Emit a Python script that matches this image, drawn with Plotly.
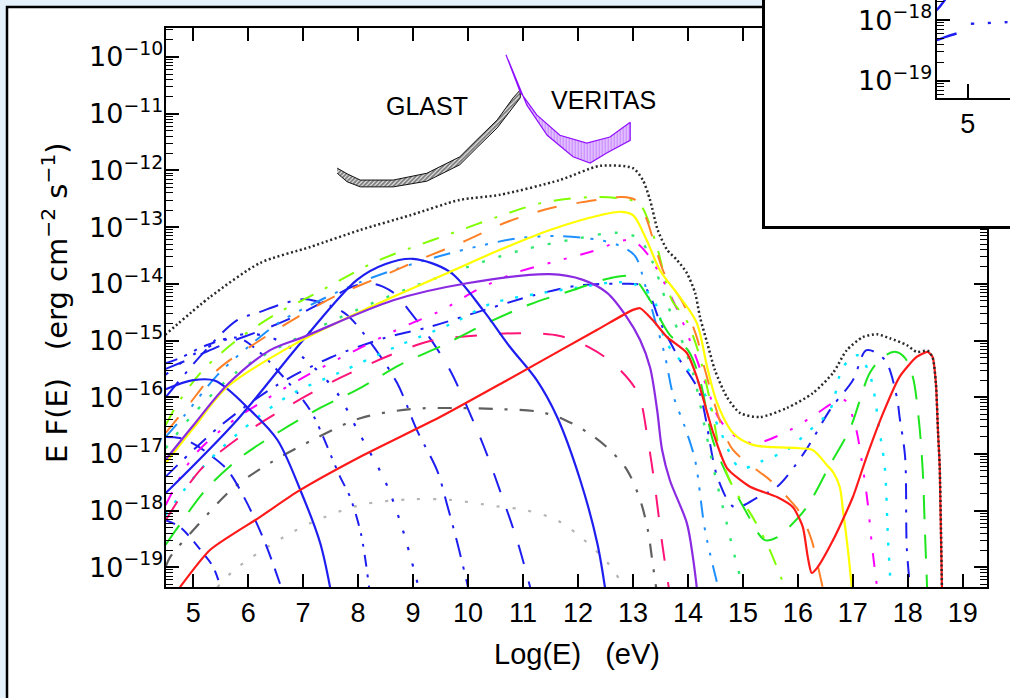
import plotly.graph_objects as go

FIG_W, FIG_H = 1010, 698

# ---------------------------------------------------------------------------
# Spectra: log10(E / eV) and log10(E F(E) / erg cm^-2 s^-1)
# ---------------------------------------------------------------------------
total_logE = [4.49, 5.31, 6.22, 7.13, 8.04, 8.95, 9.85, 10.58, 11.67, 12.40, 13.0, 13.18, 13.31,
              13.45, 13.62, 13.8, 13.98, 14.13, 14.22, 14.35, 14.49, 14.71, 14.95, 15.31, 15.8,
              16.27, 16.64, 16.89, 17.18, 17.44, 17.67, 17.98, 18.16, 18.36, 18.45, 18.51, 18.55,
              18.58, 18.62]
total_logF = [-14.90, -14.23, -13.63, -13.35, -13.05, -12.79, -12.52, -12.43, -12.17, -11.92,
              -11.96, -12.17, -12.52, -13.05, -13.40, -13.58, -13.81, -14.16, -14.59, -15.04,
              -15.52, -16.0, -16.28, -16.35, -16.19, -15.93, -15.57, -15.17, -14.94, -14.89,
              -14.96, -15.08, -15.20, -15.18, -15.30, -15.75, -16.63, -17.23, -19.35]

red_logE = [4.76, 5.31, 6.22, 6.89, 8.04, 9.49, 10.71, 12.35, 13.0, 13.13, 13.36, 13.62, 13.98,
            14.16, 14.3, 14.45, 14.71, 15.13, 15.62, 15.91, 16.09, 16.18, 16.25, 16.35, 16.64,
            17.0, 17.25, 17.55, 17.85, 18.16, 18.36, 18.45, 18.51, 18.55, 18.58, 18.62]
red_logF = [-19.35, -18.69, -18.11, -17.67, -17.05, -16.35, -15.70, -14.81, -14.46, -14.43,
            -14.64, -14.94, -15.22, -15.64, -16.10, -16.60, -17.25, -17.58, -17.76, -17.94,
            -18.29, -18.82, -19.10, -19.01, -18.52, -17.76, -17.05, -16.28, -15.64, -15.29,
            -15.20, -15.29, -15.75, -16.63, -17.23, -19.35]

yellow_logE = [4.5, 5.0, 5.62, 6.89, 8.22, 8.64, 9.67, 10.58, 11.49, 12.40, 12.80, 13.0, 13.25,
               13.49, 13.85, 14.16, 14.35, 14.53, 14.82, 15.18, 16.04, 16.27, 16.53, 16.64,
               16.76, 16.82, 16.91, 16.98]
yellow_logF = [-17.16, -16.55, -15.82, -15.04, -14.41, -14.23, -13.79, -13.40, -13.05, -12.79,
               -12.73, -12.79, -13.23, -13.76, -14.23, -14.69, -15.47, -16.10, -16.63, -16.84,
               -16.90, -16.93, -17.20, -17.32, -17.58, -17.99, -18.69, -19.35]

purple_logE = [4.5, 5.0, 5.62, 6.4, 7.0, 8.64, 9.98, 11.49, 12.09, 12.53, 12.89, 13.13, 13.31,
               13.44, 13.53, 13.67, 13.98, 14.09, 14.16]
purple_logF = [-17.10, -16.50, -15.78, -15.17, -14.94, -14.29, -13.99, -13.83, -13.93, -14.16,
               -14.59, -14.99, -15.47, -16.23, -16.93, -17.46, -18.22, -18.82, -19.35]

orange_logE = [4.5, 4.89, 5.44, 6.16, 6.89, 7.62, 8.40, 9.18, 9.91, 10.71, 11.53, 12.36, 12.80,
               13.04, 13.22, 13.44, 13.58, 13.91, 14.16, 14.31, 14.64, 14.82, 15.18, 15.49,
               15.85, 16.04, 16.25, 16.35, 16.45]
orange_logF = [-16.63, -16.17, -15.52, -15.03, -14.59, -14.20, -13.88, -13.55, -13.26, -12.91,
               -12.66, -12.52, -12.47, -12.52, -12.79, -13.46, -13.84, -14.34, -14.94, -15.52,
               -16.58, -16.93, -17.23, -17.46, -17.81, -18.04, -18.52, -18.92, -19.35]

lime_logE = [4.5, 4.76, 5.18, 5.8, 6.53, 7.25, 8.27, 8.95, 9.73, 10.53, 11.36, 12.27, 12.95,
             13.13, 13.4, 13.71, 13.95, 14.18, 14.4, 14.62, 14.85, 15.13, 15.45, 15.76]
lime_logF = [-16.49, -16.05, -15.52, -14.99, -14.52, -14.16, -13.63, -13.37, -13.10, -12.82,
             -12.57, -12.47, -12.52, -12.60, -13.23, -14.29, -14.60, -15.17, -16.05, -17.11,
             -17.64, -18.04, -18.61, -19.35]

spring_logE = [4.5, 5.0, 5.8, 6.8, 8.0, 9.0, 10.0, 11.0, 12.0, 12.7, 13.1, 13.35, 13.6, 13.85,
               14.1, 14.3, 14.5, 14.7, 14.85, 15.0]
spring_logF = [-16.90, -16.30, -15.55, -15.00, -14.45, -14.05, -13.70, -13.40, -13.20, -13.10,
               -13.20, -13.60, -14.30, -14.90, -15.60, -16.50, -17.40, -18.20, -18.80, -19.35]

green_logE = [4.5, 4.71, 5.22, 5.85, 6.58, 7.31, 8.07, 8.76, 9.55, 10.35, 11.13, 11.91, 12.58,
              12.98, 13.31, 13.67, 14.0, 14.22, 14.45, 14.71, 15.04, 15.4, 15.62, 15.82, 16.16,
              16.58, 16.95, 17.31, 17.55, 17.76, 17.95, 18.09, 18.2, 18.27, 18.31, 18.35]
green_logF = [-18.60, -18.31, -17.64, -17.07, -16.60, -16.19, -15.82, -15.43, -15.08, -14.69,
              -14.36, -14.11, -13.90, -13.88, -14.29, -14.90, -15.17, -15.70, -16.75, -17.37,
              -17.99, -18.52, -18.47, -18.31, -17.94, -17.20, -16.55, -15.57, -15.29, -15.20,
              -15.31, -15.64, -16.40, -17.28, -18.34, -19.35]

dodger_logE = [4.5, 4.85, 5.44, 6.04, 6.58, 7.31, 8.04, 8.76, 9.49, 10.22, 10.95, 11.67, 12.4,
               12.76, 13.04, 13.22, 13.4, 13.58, 13.73, 13.95, 14.13, 14.31, 14.55]
dodger_logF = [-16.70, -16.31, -15.61, -15.08, -14.67, -14.29, -13.97, -13.72, -13.51, -13.33,
               -13.19, -13.16, -13.23, -13.33, -13.51, -14.02, -14.64, -15.26, -15.96, -16.54,
               -17.11, -18.34, -19.35]

magenta_logE = [4.5, 5.0, 5.62, 6.22, 6.95, 7.67, 8.82, 9.49, 10.16, 10.85, 11.53, 12.22, 12.95,
                13.25, 13.85, 14.36, 14.58, 14.95, 15.25, 15.85, 16.31, 16.64, 16.85, 17.04,
                17.16, 17.27, 17.35, 17.44]
magenta_logF = [-17.90, -17.05, -16.49, -16.10, -15.68, -15.31, -14.76, -14.48, -14.11, -13.81,
                -13.62, -13.44, -13.23, -13.46, -14.55, -15.87, -16.40, -16.75, -16.81, -16.58,
                -16.31, -16.10, -16.05, -16.49, -17.11, -17.87, -18.64, -19.35]

pink_logE = [4.5, 5.13, 5.85, 6.76, 7.67, 8.58, 9.31, 10.04, 10.95, 11.67, 12.22, 12.67, 13.09,
             13.27, 13.4, 13.53, 13.65]
pink_logF = [-18.17, -17.28, -16.70, -16.14, -15.66, -15.26, -15.01, -14.92, -14.87, -14.92,
             -15.13, -15.43, -15.93, -16.75, -17.58, -18.57, -19.35]

cyan_logE = [4.5, 5.13, 5.85, 6.76, 7.67, 8.76, 9.73, 10.45, 11.36, 12.04, 12.76, 13.18, 13.44,
             13.58, 13.85, 14.22, 14.58, 14.95, 15.31, 15.8, 16.16, 16.58, 16.82, 17.09, 17.31,
             17.49, 17.58, 17.64, 17.69]
cyan_logF = [-18.08, -17.28, -16.61, -15.96, -15.56, -15.08, -14.69, -14.34, -14.16, -14.06,
             -13.97, -14.07, -14.41, -14.99, -15.34, -15.78, -16.58, -17.25, -17.14, -16.93,
             -16.63, -16.23, -15.47, -15.26, -15.61, -16.63, -17.23, -18.52, -19.35]

grey_logE = [4.5, 4.58, 5.09, 5.73, 6.45, 7.24, 8.04, 8.95, 9.76, 10.58, 11.31, 11.76, 12.22,
             12.58, 12.89, 13.13, 13.27, 13.35, 13.42]
grey_logF = [-18.99, -18.82, -18.25, -17.60, -17.13, -16.72, -16.37, -16.21, -16.19, -16.21,
             -16.26, -16.40, -16.65, -16.93, -17.28, -17.81, -18.34, -18.87, -19.35]

silver_logE = [5.44, 5.71, 6.04, 6.64, 7.18, 8.04, 8.95, 9.67, 10.49, 11.04, 11.62, 12.09, 12.53,
               12.76, 12.85]
silver_logF = [-19.35, -19.08, -18.84, -18.47, -18.20, -17.90, -17.80, -17.81, -17.92, -17.99,
               -18.17, -18.50, -18.91, -19.22, -19.35]

blue_a_logE = [4.5, 5.0, 5.4, 6.04, 6.53, 6.95, 7.31, 7.49]
blue_a_logF = [-15.86, -15.70, -15.71, -16.23, -16.75, -17.64, -18.57, -19.35]

blue_b_logE = [4.5, 5.8, 7.0, 7.98, 8.5, 9.0, 9.67, 10.27, 10.76, 11.25, 11.62, 12.04, 12.35, 12.49]
blue_b_logF = [-17.69, -16.40, -14.99, -13.93, -13.65, -13.56, -13.79, -14.46, -15.11, -15.70,
               -16.35, -17.46, -18.57, -19.35]

blue_0_logE = [4.5, 4.76, 5.13, 5.36, 5.5]
blue_0_logF = [-18.17, -18.29, -18.69, -18.99, -19.35]

blue_1_logE = [4.5, 4.76, 5.04, 5.31, 5.62, 5.95, 6.31, 6.6]
blue_1_logF = [-16.70, -16.72, -16.84, -17.02, -17.28, -17.81, -18.57, -19.35]

blue_2_logE = [4.5, 4.78, 5.2, 5.8, 6.2, 6.6, 7.0, 7.2, 7.67, 7.85, 8.05, 8.2]
blue_2_logF = [-15.40, -15.30, -15.10, -14.95, -15.20, -15.60, -16.05, -16.35, -17.40, -17.75,
               -18.40, -19.35]

blue_3_logE = [4.5, 5.2, 5.8, 6.2, 6.7, 7.05, 7.55, 7.8, 8.2, 8.71, 9.07, 9.44, 9.62, 9.8, 10.0]
blue_3_logF = [-16.00, -15.20, -14.64, -14.50, -14.33, -14.27, -14.41, -14.55, -15.00, -15.75,
               -16.58, -17.30, -17.90, -18.55, -19.35]

blue_4_logE = [4.5, 5.0, 5.6, 6.3, 6.9, 7.5, 7.9, 8.2, 8.45, 8.7, 8.95, 9.3, 9.67, 9.95, 10.3,
               10.6, 10.9, 11.13]
blue_4_logF = [-15.50, -15.30, -15.05, -14.80, -14.55, -14.25, -14.05, -13.99, -14.05, -14.20,
               -14.50, -14.95, -15.52, -16.10, -16.90, -17.70, -18.55, -19.35]

blue_5_logE = [4.5, 5.5, 6.5, 7.5, 8.5, 9.3, 10.3, 11.2, 12.0, 12.75, 13.2, 13.5, 13.85, 14.2,
               14.55, 14.85, 15.3, 15.62, 16.1, 16.6, 17.0, 17.25, 17.58, 17.8, 17.85, 17.95,
               17.98, 18.04]
blue_5_logF = [-17.40, -16.50, -15.80, -15.30, -14.95, -14.76, -14.46, -14.20, -14.03, -14.00,
               -14.05, -14.69, -15.34, -15.90, -17.45, -17.94, -17.75, -17.58, -17.00, -16.20,
               -15.70, -15.17, -15.34, -16.00, -16.35, -17.05, -18.64, -19.35]

blue_dot_logE = [4.5, 5.0, 5.6, 6.0, 6.5, 7.0, 7.6, 8.0, 8.5, 8.8, 9.1]
blue_dot_logF = [-15.60, -15.25, -14.98, -14.88, -14.98, -15.30, -15.90, -16.60, -17.50, -18.30,
                 -19.35]

# Sensitivity bands (upper and lower edges)
glast_logE = [7.62, 7.80, 8.04, 8.64, 9.25, 9.85, 10.16, 10.53, 10.82, 10.95]
glast_hi = [-11.96, -12.06, -12.17, -12.17, -12.05, -11.76, -11.46, -11.11, -10.72, -10.58]
glast_lo = [-12.05, -12.20, -12.29, -12.29, -12.19, -11.90, -11.60, -11.25, -10.88, -10.72]

veritas_hi_logE = [10.69, 10.95, 11.25, 11.67, 12.16, 12.58, 12.95]
veritas_hi = [-9.96, -10.62, -11.02, -11.38, -11.52, -11.41, -11.15]
veritas_lo_logE = [10.73, 11.07, 11.44, 11.91, 12.22, 12.53, 12.95]
veritas_lo = [-10.05, -10.85, -11.38, -11.76, -11.87, -11.69, -11.47]

# Inset curves (low-energy detail)
inset_a_logE = [4.5, 4.58, 4.68]
inset_a_logF = [-17.84, -17.74, -17.60]
inset_b_logE = [4.5, 4.66, 4.82]
inset_b_logF = [-18.33, -18.27, -18.22]
inset_c_logE = [5.05, 5.3, 5.5, 5.7]
inset_c_logF = [-18.06, -18.05, -18.04, -18.03]

# Axis ticks
x_ticks = list(range(5, 20))
y_decades = list(range(-19, -9))
y_ticktext = ["10<sup>\u2212%d</sup>" % (-d) for d in y_decades]
inset_decades = [-19, -18]
inset_ticktext = ["10<sup>\u2212%d</sup>" % (-d) for d in inset_decades]

BLUE = "#1e1ef0"
SANS = "Liberation Sans, Arial, sans-serif"
WIDE = "DejaVu Sans, sans-serif"


def lin(vals):
    return [10.0 ** v for v in vals]


fig = go.Figure()


def curve(xs, ys, color, dash="solid", width=2.0, smoothing=0.9, xaxis="x", yaxis="y"):
    fig.add_trace(go.Scatter(
        x=xs, y=lin(ys), mode="lines", xaxis=xaxis, yaxis=yaxis,
        line=dict(color=color, width=width, dash=dash, shape="spline", smoothing=smoothing),
        hoverinfo="skip", showlegend=False))


# generation components
curve(silver_logE, silver_logF, "#b4b4b4", "3px,13px", 2.2)
curve(grey_logE, grey_logF, "#606060", "14px,12px,3px,12px", 2.2)
curve(blue_dot_logE, blue_dot_logF, BLUE, "3px,14px", 2.2)
curve(blue_0_logE, blue_0_logF, BLUE, "10px,8px")
curve(blue_1_logE, blue_1_logF, BLUE, "16px,10px")
curve(blue_2_logE, blue_2_logF, BLUE, "12px,8px,3px,8px,3px,8px")
curve(blue_3_logE, blue_3_logF, BLUE, "20px,10px,3px,10px")
curve(blue_4_logE, blue_4_logF, BLUE, "20px,18px")
curve(blue_5_logE, blue_5_logF, BLUE, "16px,10px,3px,10px")
curve(cyan_logE, cyan_logF, "#00e8ff", "3px,12px", 2.4)
curve(pink_logE, pink_logF, "#ff1477", "22px,22px")
curve(magenta_logE, magenta_logF, "#ff00ff", "14px,14px,3px,14px,3px,14px")
curve(dodger_logE, dodger_logF, "#1e90ff", "17px,10px,3px,10px,3px,10px,3px,10px")
curve(green_logE, green_logF, "#1ee61e", "24px,16px")
curve(spring_logE, spring_logF, "#30e870", "3px,14px", 2.4)
curve(lime_logE, lime_logF, "#7fff00", "17px,13px,3px,13px")
curve(orange_logE, orange_logF, "#ff8026", "20px,20px")
curve(blue_a_logE, blue_a_logF, BLUE, "solid", 2.2)
curve(blue_b_logE, blue_b_logF, BLUE, "solid", 2.2)
curve(yellow_logE, yellow_logF, "#ffff00", "solid", 2.2)
curve(purple_logE, purple_logF, "#8a2be2", "solid", 2.2)
curve(red_logE, red_logF, "#ff1a1a", "solid", 2.2, smoothing=0.6)
curve(total_logE, total_logF, "#2a2a2a", "2px,2.6px", 2.5, smoothing=0.7)

# instrument sensitivity bands
fig.add_trace(go.Scatter(
    x=glast_logE + glast_logE[::-1], y=lin(glast_hi + glast_lo[::-1]),
    mode="lines", fill="toself", line=dict(color="#111111", width=1),
    fillcolor="rgba(0,0,0,0)",
    fillpattern=dict(shape="/", fgcolor="black", bgcolor="white", size=3, solidity=0.7),
    hoverinfo="skip", showlegend=False))
fig.add_trace(go.Scatter(
    x=veritas_hi_logE + veritas_lo_logE[::-1], y=lin(veritas_hi + veritas_lo[::-1]),
    mode="lines", fill="toself", line=dict(color="#9010ff", width=1.2),
    fillcolor="rgba(0,0,0,0)",
    fillpattern=dict(shape="|", fgcolor="#9010ff", bgcolor="white", size=3, solidity=0.7),
    hoverinfo="skip", showlegend=False))

# white panel that carries the inset (no marks of its own)
fig.add_trace(go.Scatter(x=[None], y=[None], mode="lines", xaxis="x2", yaxis="y2",
                         hoverinfo="skip", showlegend=False))

# inset curves
curve(inset_a_logE, inset_a_logF, BLUE, "solid", 2.4, xaxis="x3", yaxis="y3")
curve(inset_b_logE, inset_b_logF, BLUE, "solid", 2.4, xaxis="x3", yaxis="y3")
curve(inset_c_logE, inset_c_logF, BLUE, "3px,14px", 2.4, xaxis="x3", yaxis="y3")

main_x = dict(domain=[165.7 / FIG_W, 987 / FIG_W], anchor="y", range=[4.5, 19.44],
              showline=True, linecolor="black", linewidth=2, mirror="ticks",
              ticks="inside", ticklen=13, tickwidth=1.5, tickcolor="black",
              tickmode="array", tickvals=x_ticks, ticktext=[str(v) for v in x_ticks],
              tickfont=dict(size=27, color="black", family=SANS),
              showgrid=False, zeroline=False, ticklabelstandoff=1)
main_y = dict(domain=[1 - 587 / FIG_H, 1 - 27.7 / FIG_H], anchor="x", type="log",
              range=[-19.347, -9.483],
              showline=True, linecolor="black", linewidth=2, mirror="ticks",
              ticks="inside", ticklen=13, tickwidth=1.5, tickcolor="black",
              tickmode="array", tickvals=lin(y_decades), ticktext=y_ticktext,
              tickfont=dict(size=27, color="black", family=WIDE),
              minor=dict(tickmode="array",
                         tickvals=[m * 10.0 ** d for d in range(-20, -9) for m in range(2, 10)],
                         ticks="inside", ticklen=7, tickwidth=1, tickcolor="black"),
              showgrid=False, zeroline=False, ticklabelstandoff=-5)

box_x = dict(domain=[765 / FIG_W, 1.0], anchor="y2", range=[0, 1], showline=True,
             linecolor="black", linewidth=3, showticklabels=False, ticks="",
             showgrid=False, zeroline=False, fixedrange=True)
box_y = dict(domain=[1 - 226 / FIG_H, 1.0], anchor="x2", range=[0, 1], showline=True,
             linecolor="black", linewidth=3, showticklabels=False, ticks="",
             showgrid=False, zeroline=False, fixedrange=True)

inset_x = dict(domain=[936.7 / FIG_W, 1.0], anchor="y3", range=[4.5, 5.68], showline=True,
               linecolor="black", linewidth=2, ticks="inside", ticklen=14, tickwidth=1.5,
               tickcolor="black", tickmode="array", tickvals=[5], ticktext=["5"],
               tickfont=dict(size=27, color="black", family=SANS),
               showgrid=False, zeroline=False, ticklabelstandoff=1)
inset_y = dict(domain=[1 - 98 / FIG_H, 1.0], anchor="x3", type="log", range=[-19.28, -17.67],
               showline=True, linecolor="black", linewidth=2, ticks="inside", ticklen=13,
               tickwidth=1.5, tickcolor="black", tickmode="array",
               tickvals=lin(inset_decades), ticktext=inset_ticktext,
               tickfont=dict(size=27, color="black", family=WIDE),
               minor=dict(tickmode="array",
                          tickvals=[m * 10.0 ** d for d in range(-20, -17) for m in range(2, 10)],
                          ticks="inside", ticklen=7, tickwidth=1, tickcolor="black"),
               showgrid=False, zeroline=False, ticklabelstandoff=-3)

fig.update_layout(
    width=FIG_W, height=FIG_H, autosize=False,
    margin=dict(l=0, r=0, t=0, b=0, pad=0),
    paper_bgcolor="#e6f2fb", plot_bgcolor="white",
    font=dict(family=SANS, color="black"),
    showlegend=False,
    xaxis=main_x, yaxis=main_y,
    xaxis2=box_x, yaxis2=box_y,
    xaxis3=inset_x, yaxis3=inset_y,
    shapes=[dict(type="rect", xref="paper", yref="paper", layer="below",
                 x0=7 / FIG_W, x1=1.05, y0=-0.05, y1=1 - 7 / FIG_H,
                 line=dict(color="black", width=2.5), fillcolor="white")],
    annotations=[
        dict(text="GLAST", x=427 / FIG_W, y=1 - 90 / FIG_H, xref="paper", yref="paper",
             showarrow=False, font=dict(size=25, family=SANS, color="black")),
        dict(text="VERITAS", x=603 / FIG_W, y=1 - 84 / FIG_H, xref="paper", yref="paper",
             showarrow=False, font=dict(size=25, family=SANS, color="black")),
        dict(text="Log(E)\u00a0\u00a0\u00a0(eV)", x=577 / FIG_W, y=1 - 672 / FIG_H,
             xref="paper", yref="paper", showarrow=False,
             font=dict(size=29, family=SANS, color="black")),
        dict(text="E F(E)\u00a0\u00a0\u00a0(erg cm<sup>\u22122</sup> s<sup>\u22121</sup>)",
             x=34 / FIG_W, y=1 - 303 / FIG_H, xref="paper", yref="paper", textangle=-90,
             showarrow=False, font=dict(size=29, family=WIDE, color="black")),
    ],
)

fig.write_html("out.html")
